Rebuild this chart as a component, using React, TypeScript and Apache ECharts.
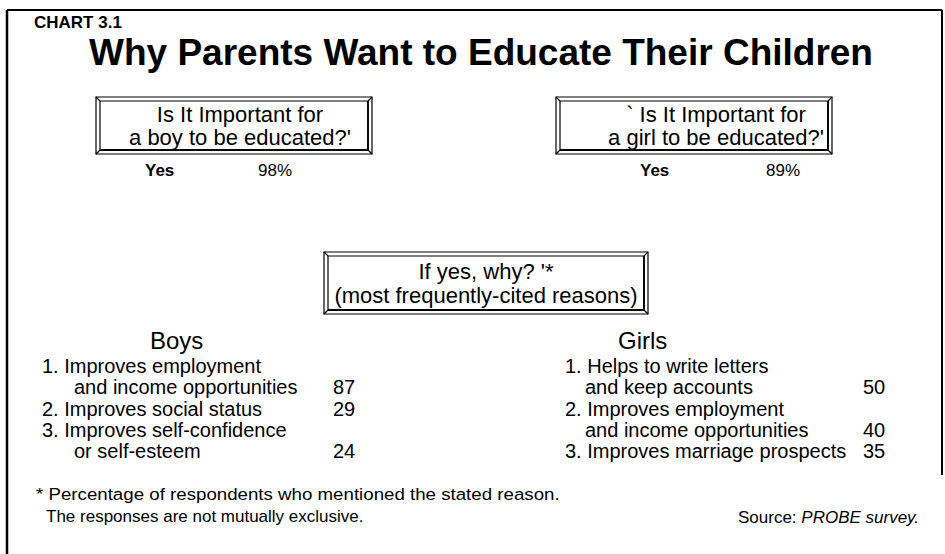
import React, { useEffect, useRef } from "react";
import * as echarts from "echarts";

const CHART_LABEL = "CHART 3.1";
const TITLE = "Why Parents Want to Educate Their Children";
const QUESTION_BOXES = [
  ["Is It Important for", "a boy to be educated?'"],
  ["` Is It Important for", "a girl to be educated?'"],
];
const YES_LABEL = "Yes";
const YES_SHARES = [98, 89];
const WHY_BOX = ["If yes, why? '*", "(most frequently-cited reasons)"];
const GROUPS = ["Boys", "Girls"];
const BOYS_REASONS = [
  ["1. Improves employment", "and income opportunities"],
  ["2. Improves social status"],
  ["3. Improves self-confidence", "or self-esteem"],
];
const BOYS_VALUES = [87, 29, 24];
const GIRLS_REASONS = [
  ["1. Helps to write letters", "and keep accounts"],
  ["2. Improves employment", "and income opportunities"],
  ["3. Improves marriage prospects"],
];
const GIRLS_VALUES = [50, 40, 35];
const FOOTNOTE = [
  "* Percentage of respondents who mentioned the stated reason.",
  "The responses are not mutually exclusive.",
];
const SOURCE_LABEL = "Source: ";
const SOURCE_NAME = "PROBE survey.";

const FONT = "'Liberation Sans', Arial, Helvetica, sans-serif";

function frameBox(x: number, y: number, w: number, h: number): any[] {
  const inset = 4;
  const s = { stroke: "#000", fill: "none", lineWidth: 1.2 };
  return [
    { type: "rect", shape: { x, y, width: w, height: h }, style: { ...s, fill: "#fff" } },
    { type: "rect", shape: { x: x + inset, y: y + inset, width: w - 2 * inset, height: h - 2 * inset }, style: s },
    { type: "line", shape: { x1: x, y1: y, x2: x + inset, y2: y + inset }, style: s },
    { type: "line", shape: { x1: x + w, y1: y, x2: x + w - inset, y2: y + inset }, style: s },
    { type: "line", shape: { x1: x, y1: y + h, x2: x + inset, y2: y + h - inset }, style: s },
    { type: "line", shape: { x1: x + w, y1: y + h, x2: x + w - inset, y2: y + h - inset }, style: s },
    { type: "line", shape: { x1: x + inset, y1: y + h - inset, x2: x + w - inset, y2: y + h - inset }, style: { stroke: "#000", lineWidth: 2 } },
    { type: "line", shape: { x1: x + w - inset, y1: y + inset, x2: x + w - inset, y2: y + h - inset }, style: { stroke: "#000", lineWidth: 1.8 } },
  ];
}

function txt(text: string, x: number, y: number, size: number, opts: any = {}): any {
  return {
    type: "text",
    x,
    y,
    scaleX: opts.scaleX || 1,
    style: {
      text,
      fill: "#000",
      font: `${opts.italic ? "italic " : ""}${opts.bold ? "bold " : ""}${size}px ${FONT}`,
      textAlign: opts.align || "left",
      textVerticalAlign: "middle",
    },
  };
}

export default function App() {
  const ref = useRef<HTMLDivElement>(null);
  useEffect(() => {
    if (!ref.current) return;
    const chart = echarts.init(ref.current, undefined, { renderer: "svg" });
    const els: any[] = [];

    // outer frame
    els.push({ type: "line", shape: { x1: 7, y1: 10, x2: 942, y2: 10 }, style: { stroke: "#000", lineWidth: 2 } });
    els.push({ type: "line", shape: { x1: 7, y1: 10, x2: 7, y2: 554 }, style: { stroke: "#000", lineWidth: 2.5 } });
    els.push({ type: "line", shape: { x1: 942, y1: 10, x2: 942, y2: 475 }, style: { stroke: "#000", lineWidth: 2 } });

    els.push(txt(CHART_LABEL, 34, 22, 17, { bold: true }));
    els.push(txt(TITLE, 481, 52, 37, { bold: true, align: "center" }));

    // question boxes
    const qBoxes = [
      { x: 96, w: 276, cx: 240, yesX: 145, pctX: 258 },
      { x: 556, w: 276, cx: 716, yesX: 640, pctX: 766 },
    ];
    QUESTION_BOXES.forEach((lines, i) => {
      const b = qBoxes[i];
      els.push(...frameBox(b.x, 97, b.w, 57));
      els.push(txt(lines[0], b.cx, 114, 22, { align: "center" }));
      els.push(txt(lines[1], b.cx, 137, 22, { align: "center" }));
      els.push(txt(YES_LABEL, b.yesX, 170, 17, { bold: true }));
      els.push(txt(`${YES_SHARES[i]}%`, b.pctX, 170, 17));
    });

    // why box
    els.push(...frameBox(324, 252, 324, 62));
    els.push(txt(WHY_BOX[0], 486, 271, 22, { align: "center" }));
    els.push(txt(WHY_BOX[1], 486, 295, 22, { align: "center" }));

    // lists
    const cols = [
      { groupX: 150, x: 42, indent: 32, valX: 333, reasons: BOYS_REASONS, values: BOYS_VALUES },
      { groupX: 618, x: 565, indent: 20, valX: 863, reasons: GIRLS_REASONS, values: GIRLS_VALUES },
    ];
    cols.forEach((c, ci) => {
      els.push(txt(GROUPS[ci], c.groupX, 340, 24));
      let line = 0;
      c.reasons.forEach((r, ri) => {
        r.forEach((t, li) => {
          const y = 366 + line * 21.3;
          els.push(txt(t, li === 0 ? c.x : c.x + c.indent, y, 20));
          if (li === r.length - 1) els.push(txt(String(c.values[ri]), c.valX, y, 20));
          line++;
        });
      });
    });

    // footnote & source
    els.push(txt(FOOTNOTE[0], 36, 494, 17, { scaleX: 1.1 }));
    els.push(txt(FOOTNOTE[1], 46, 516, 17));
    els.push({
      type: "text",
      x: 738,
      y: 517,
      style: {
        text: `{n|${SOURCE_LABEL}}{i|${SOURCE_NAME}}`,
        textVerticalAlign: "middle",
        rich: {
          n: { font: `17px ${FONT}`, fill: "#000" },
          i: { font: `italic 17px ${FONT}`, fill: "#000" },
        },
      },
    });

    chart.setOption({
      animation: false,
      backgroundColor: "#fff",
      graphic: { elements: els },
    });
    return () => chart.dispose();
  }, []);
  return (
    <div
      ref={ref}
      style={{ position: "absolute", left: 0, top: 0, width: 945, height: 554, background: "#fff" }}
    />
  );
}
